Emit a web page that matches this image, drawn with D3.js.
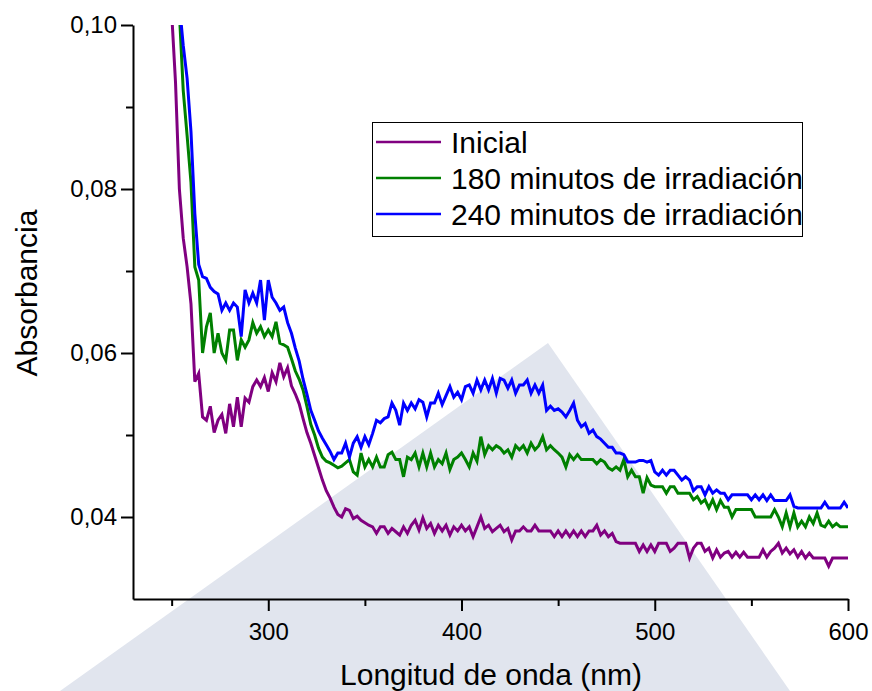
<!DOCTYPE html>
<html>
<head>
<meta charset="utf-8">
<script src="https://cdn.jsdelivr.net/npm/d3@7"></script>
<style>
  html, body { margin: 0; padding: 0; background: #fff; }
  svg { display: block; font-family: "Liberation Sans", Arial, sans-serif; }
</style>
</head>
<body>
<svg id="chart" width="872" height="691"></svg>
<script>
// ---------- DATA ----------
const wavelengths = [
  250,252,254,256,258,260,262,264,266,268,
  270,272,274,276,278,280,282,284,286,288,
  290,292,294,296,298,300,302,304,306,308,
  310,312,314,316,318,320,322,324,326,328,
  330,332,334,336,338,340,342,344,346,348,
  350,352,354,356,358,360,362,364,366,368,
  370,372,374,376,378,380,382,384,386,388,
  390,392,394,396,398,400,402,404,406,408,
  410,412,414,416,418,420,422,424,426,428,
  430,432,434,436,438,440,442,444,446,448,
  450,452,454,456,458,460,462,464,466,468,
  470,472,474,476,478,480,482,484,486,488,
  490,492,494,496,498,500,502,504,506,508,
  510,512,514,516,518,520,522,524,526,528,
  530,532,534,536,538,540,542,544,546,548,
  550,552,554,556,558,560,562,564,566,568,
  570,572,574,576,578,580,582,584,586,588,
  590,592,594,596,598,600
];

const inicial = [
  0.1015,0.0930,0.0800,0.0740,0.0705,0.0660,0.0565,0.0575,0.0522,0.0518,
  0.0535,0.0503,0.0518,0.0525,0.0502,0.0538,0.0510,0.0546,0.0510,0.0545,
  0.0540,0.0559,0.0567,0.0559,0.0570,0.0553,0.0576,0.0565,0.0588,0.0571,
  0.0582,0.0560,0.0550,0.0538,0.0520,0.0503,0.0490,0.0475,0.0460,0.0445,
  0.0432,0.0423,0.0412,0.0403,0.0400,0.0410,0.0408,0.0398,0.0401,0.0396,
  0.0393,0.0390,0.0388,0.0380,0.0388,0.0388,0.0380,0.0386,0.0382,0.0378,
  0.0388,0.0380,0.0390,0.0396,0.0384,0.0399,0.0386,0.0392,0.0380,0.0390,
  0.0383,0.0390,0.0378,0.0388,0.0383,0.0390,0.0383,0.0388,0.0376,0.0388,
  0.0400,0.0386,0.0390,0.0382,0.0386,0.0390,0.0382,0.0386,0.0372,0.0383,
  0.0383,0.0388,0.0383,0.0383,0.0390,0.0383,0.0383,0.0383,0.0383,0.0376,
  0.0383,0.0376,0.0383,0.0376,0.0383,0.0376,0.0383,0.0376,0.0383,0.0383,
  0.0390,0.0378,0.0383,0.0376,0.0380,0.0370,0.0368,0.0368,0.0368,0.0368,
  0.0368,0.0358,0.0366,0.0358,0.0366,0.0358,0.0368,0.0368,0.0368,0.0358,
  0.0362,0.0368,0.0368,0.0368,0.0350,0.0362,0.0368,0.0368,0.0358,0.0362,
  0.0350,0.0360,0.0351,0.0356,0.0358,0.0351,0.0357,0.0351,0.0357,0.0351,
  0.0351,0.0351,0.0351,0.0360,0.0351,0.0358,0.0362,0.0368,0.0356,0.0362,
  0.0355,0.0360,0.0351,0.0358,0.0350,0.0356,0.0350,0.0350,0.0350,0.0350,
  0.0340,0.0350,0.0350,0.0350,0.0350,0.0350
];

const min180 = [
  0.1100,0.1060,0.1015,0.0920,0.0865,0.0808,0.0705,0.0689,0.0600,0.0632,
  0.0649,0.0600,0.0624,0.0600,0.0591,0.0628,0.0628,0.0591,0.0616,0.0607,
  0.0616,0.0637,0.0624,0.0632,0.0620,0.0628,0.0620,0.0638,0.0612,0.0610,
  0.0607,0.0593,0.0578,0.0568,0.0555,0.0535,0.0513,0.0500,0.0484,0.0473,
  0.0468,0.0466,0.0463,0.0460,0.0462,0.0466,0.0470,0.0455,0.0451,0.0478,
  0.0461,0.0470,0.0461,0.0473,0.0461,0.0461,0.0476,0.0479,0.0470,0.0470,
  0.0449,0.0473,0.0470,0.0478,0.0461,0.0478,0.0461,0.0478,0.0461,0.0470,
  0.0465,0.0478,0.0458,0.0470,0.0473,0.0478,0.0470,0.0461,0.0478,0.0468,
  0.0498,0.0476,0.0487,0.0482,0.0487,0.0484,0.0478,0.0482,0.0473,0.0487,
  0.0482,0.0487,0.0478,0.0490,0.0482,0.0487,0.0498,0.0482,0.0487,0.0482,
  0.0478,0.0473,0.0461,0.0476,0.0470,0.0476,0.0470,0.0470,0.0470,0.0470,
  0.0465,0.0470,0.0467,0.0460,0.0457,0.0461,0.0457,0.0470,0.0449,0.0457,
  0.0449,0.0449,0.0429,0.0448,0.0439,0.0437,0.0437,0.0437,0.0429,0.0437,
  0.0437,0.0429,0.0429,0.0429,0.0429,0.0421,0.0425,0.0417,0.0421,0.0411,
  0.0421,0.0409,0.0420,0.0412,0.0412,0.0400,0.0409,0.0409,0.0409,0.0409,
  0.0409,0.0400,0.0400,0.0400,0.0400,0.0400,0.0409,0.0400,0.0388,0.0405,
  0.0388,0.0405,0.0388,0.0395,0.0388,0.0400,0.0392,0.0405,0.0390,0.0388,
  0.0395,0.0388,0.0392,0.0388,0.0388,0.0388
];

const min240 = [
  0.1120,0.1080,0.1025,0.0975,0.0935,0.0870,0.0770,0.0708,0.0693,0.0691,
  0.0680,0.0675,0.0672,0.0652,0.0661,0.0652,0.0661,0.0656,0.0620,0.0677,
  0.0661,0.0673,0.0661,0.0689,0.0640,0.0689,0.0668,0.0661,0.0652,0.0656,
  0.0637,0.0624,0.0606,0.0590,0.0568,0.0550,0.0530,0.0518,0.0505,0.0496,
  0.0488,0.0480,0.0470,0.0478,0.0478,0.0490,0.0473,0.0490,0.0498,0.0485,
  0.0498,0.0488,0.0502,0.0518,0.0515,0.0520,0.0522,0.0539,0.0530,0.0512,
  0.0539,0.0530,0.0539,0.0532,0.0543,0.0540,0.0522,0.0539,0.0539,0.0551,
  0.0537,0.0548,0.0559,0.0546,0.0552,0.0543,0.0559,0.0561,0.0551,0.0567,
  0.0555,0.0567,0.0555,0.0569,0.0551,0.0569,0.0567,0.0557,0.0567,0.0551,
  0.0561,0.0561,0.0567,0.0551,0.0561,0.0551,0.0561,0.0530,0.0535,0.0530,
  0.0532,0.0528,0.0522,0.0530,0.0539,0.0518,0.0510,0.0514,0.0502,0.0506,
  0.0498,0.0495,0.0490,0.0485,0.0485,0.0478,0.0478,0.0476,0.0467,0.0467,
  0.0467,0.0469,0.0469,0.0467,0.0469,0.0455,0.0451,0.0457,0.0451,0.0457,
  0.0457,0.0451,0.0445,0.0449,0.0445,0.0432,0.0437,0.0437,0.0427,0.0437,
  0.0429,0.0433,0.0429,0.0429,0.0421,0.0427,0.0427,0.0427,0.0427,0.0427,
  0.0421,0.0427,0.0421,0.0427,0.0420,0.0427,0.0420,0.0420,0.0420,0.0420,
  0.0427,0.0413,0.0411,0.0411,0.0411,0.0411,0.0411,0.0411,0.0411,0.0418,
  0.0411,0.0411,0.0411,0.0411,0.0418,0.0411
];

const seriesNames = ["Inicial", "180 minutos de irradiación", "240 minutos de irradiación"];
const seriesColors = ["#800080", "#008000", "#0000ff"];
const xMajorTicks = [300, 400, 500, 600];
const xMinorTicks = [250, 350, 450, 550];
const yMajorTicks = [0.04, 0.06, 0.08, 0.10];
const yMinorTicks = [0.05, 0.07, 0.09];
const xTitle = "Longitud de onda (nm)";
const yTitle = "Absorbancia";

// ---------- CHART ----------
const svg = d3.select("#chart");
const x = d3.scaleLinear().domain([230, 600]).range([133, 848]);
const y = d3.scaleLinear().domain([0.03, 0.10]).range([599, 25]);
const fmtY = v => d3.format(".2f")(v).replace(".", ",");

// faint background watermark band (decoration of the source image)
svg.append("polygon")
  .attr("points", "548,343 790,691 60,691")
  .attr("fill", "#e1e5ee");

svg.append("defs").append("clipPath").attr("id", "plotclip")
  .append("rect")
  .attr("x", x.range()[0]).attr("y", y.range()[1])
  .attr("width", x.range()[1] - x.range()[0])
  .attr("height", y.range()[0] - y.range()[1]);

const allSeries = [inicial, min180, min240];
const line = d3.line().x(d => x(d[0])).y(d => y(d[1]));

const plot = svg.append("g").attr("clip-path", "url(#plotclip)");
allSeries.forEach((vals, i) => {
  plot.append("path")
    .datum(wavelengths.map((w, k) => [w, vals[k]]))
    .attr("fill", "none")
    .attr("stroke", seriesColors[i])
    .attr("stroke-width", 3)
    .attr("stroke-linejoin", "miter")
    .attr("d", line);
});

// axes
function styleAxis(g) {
  g.selectAll("path.domain").attr("stroke", "#000").attr("stroke-width", 2);
  g.selectAll(".tick line").attr("stroke", "#000").attr("stroke-width", 2);
  g.selectAll(".tick text")
    .attr("fill", "#000")
    .style("font-size", "24px")
    .style("font-family", "'Liberation Sans', Arial, sans-serif");
}

const gx = svg.append("g").attr("transform", `translate(0,${y.range()[0]})`)
  .call(d3.axisBottom(x).tickValues(xMajorTicks).tickSize(12).tickSizeOuter(0)
        .tickPadding(12).tickFormat(d3.format("d")));
styleAxis(gx);
const gxm = svg.append("g").attr("transform", `translate(0,${y.range()[0]})`)
  .call(d3.axisBottom(x).tickValues(xMinorTicks).tickSize(7).tickSizeOuter(0).tickFormat(""));
styleAxis(gxm);
gxm.select("path.domain").remove();

const gy = svg.append("g").attr("transform", `translate(${x.range()[0]},0)`)
  .call(d3.axisLeft(y).tickValues(yMajorTicks).tickSize(12).tickSizeOuter(0)
        .tickPadding(4).tickFormat(fmtY));
styleAxis(gy);
const gym = svg.append("g").attr("transform", `translate(${x.range()[0]},0)`)
  .call(d3.axisLeft(y).tickValues(yMinorTicks).tickSize(7).tickSizeOuter(0).tickFormat(""));
styleAxis(gym);
gym.select("path.domain").remove();

// titles
svg.append("text")
  .attr("x", 491).attr("y", 685)
  .attr("text-anchor", "middle")
  .style("font-size", "30px")
  .text(xTitle);
svg.append("text")
  .attr("transform", "translate(37,293) rotate(-90)")
  .attr("text-anchor", "middle")
  .style("font-size", "30px")
  .text(yTitle);

// legend
const legend = svg.append("g");
legend.append("rect")
  .attr("x", 372.5).attr("y", 122.5).attr("width", 430).attr("height", 114)
  .attr("fill", "#fff").attr("stroke", "#000").attr("stroke-width", 1);
const legendY = [142, 178, 214];
seriesNames.forEach((name, i) => {
  legend.append("line")
    .attr("x1", 376).attr("x2", 441)
    .attr("y1", legendY[i]).attr("y2", legendY[i])
    .attr("stroke", seriesColors[i]).attr("stroke-width", 2.5);
  legend.append("text")
    .attr("x", 451).attr("y", legendY[i])
    .attr("dy", "0.35em")
    .style("font-size", "30px")
    .text(name);
});
</script>
</body>
</html>
